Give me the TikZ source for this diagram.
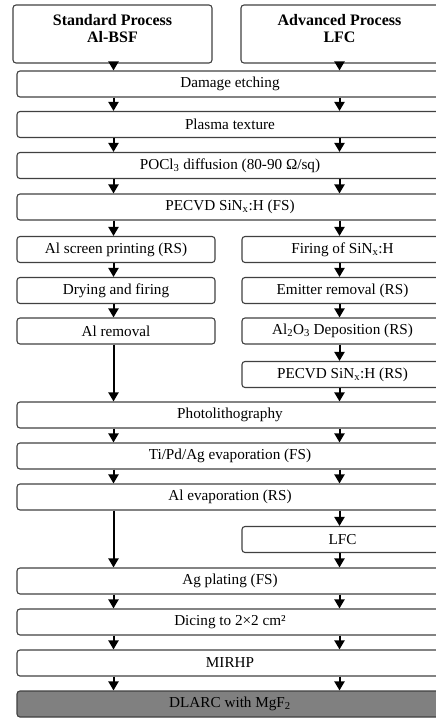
\documentclass[tikz,border=0pt]{standalone}
\usepackage{fontspec}
\setmainfont{Liberation Serif}
\usetikzlibrary{arrows.meta}
\begin{document}
\begin{tikzpicture}[x=1pt,y=-1pt,
  box/.style={draw=black!75,line width=1.1pt,rounded corners=3pt,inner sep=0pt,
    minimum height=26pt,font=\fontsize{15.2}{17}\selectfont},
  full/.style={box,minimum width=426pt},
  lbox/.style={box,minimum width=198pt},
  rbox/.style={box,minimum width=201pt},
  hdr/.style={draw=black!75,line width=1.1pt,rounded corners=3pt,inner sep=0pt,minimum height=58pt},
  hdrtext/.style={align=center,font=\fontsize{16}{17}\selectfont\bfseries,inner sep=0pt},
  arr/.style={line width=2pt,-{Triangle[width=10pt,length=9pt]}}]
\useasboundingbox (0,0) rectangle (436,718);
\coordinate (L) at (113.5,0);
\coordinate (R) at (339.5,0);
% headers
\node[hdr,minimum width=199pt] (h1) at (112.5,34) {};
\node[hdrtext] (h1t) at (112.5,29) {Standard Process\\Al-BSF};
\node[hdr,minimum width=205pt] (h2) at (343.5,34) {};
\node[hdrtext] (h2t) at (339.5,29) {Advanced Process\\LFC};
% full-width steps
\node[full] (dmg) at (230,84) {Damage etching};
\node[full] (pla) at (230,124.5) {Plasma texture};
\node[full] (poc) at (230,165.5) {POCl\textsubscript{3} diffusion (80-90 Ω/sq)};
\node[full] (pfs) at (230,207) {PECVD SiN\textsubscript{x}:H (FS)};
% left column
\node[lbox] (l1) at (116,249.5) {Al screen printing (RS)};
\node[lbox] (l2) at (116,290.5) {Drying and firing};
\node[lbox] (l3) at (116,331) {Al removal};
% right column
\node[rbox] (r1) at (342.5,249.5) {Firing of SiN\textsubscript{x}:H};
\node[rbox] (r2) at (342.5,290.5) {Emitter removal (RS)};
\node[rbox] (r3) at (342.5,331) {Al\textsubscript{2}O\textsubscript{3} Deposition (RS)};
\node[rbox] (r4) at (342.5,374.5) {PECVD SiN\textsubscript{x}:H (RS)};
% common
\node[full] (pho) at (230,415) {Photolithography};
\node[full] (tpa) at (230,456) {Ti/Pd/Ag evaporation (FS)};
\node[full] (ale) at (230,497) {Al evaporation (RS)};
\node[rbox] (lfc) at (342.5,539.5) {LFC};
\node[full] (agp) at (230,581) {Ag plating (FS)};
\node[full] (dic) at (230,622) {Dicing to 2×2 cm²};
\node[full] (mir) at (230,663) {MIRHP};
\node[full,fill=black!50] (dla) at (230,704) {DLARC with MgF\textsubscript{2}};
% arrows
\foreach \a/\b in {h1/dmg,dmg/pla,pla/poc,poc/pfs,pfs/l1,l1/l2,l2/l3,l3/pho,pho/tpa,tpa/ale,ale/agp,agp/dic,dic/mir,mir/dla}
  \draw[arr] (\a.south -| L) -- (\b.north -| L);
\foreach \a/\b in {h2/dmg,dmg/pla,pla/poc,poc/pfs,pfs/r1,r1/r2,r2/r3,r3/r4,r4/pho,pho/tpa,tpa/ale,ale/lfc,lfc/agp,agp/dic,dic/mir,mir/dla}
  \draw[arr] (\a.south -| R) -- (\b.north -| R);
\end{tikzpicture}
\end{document}
